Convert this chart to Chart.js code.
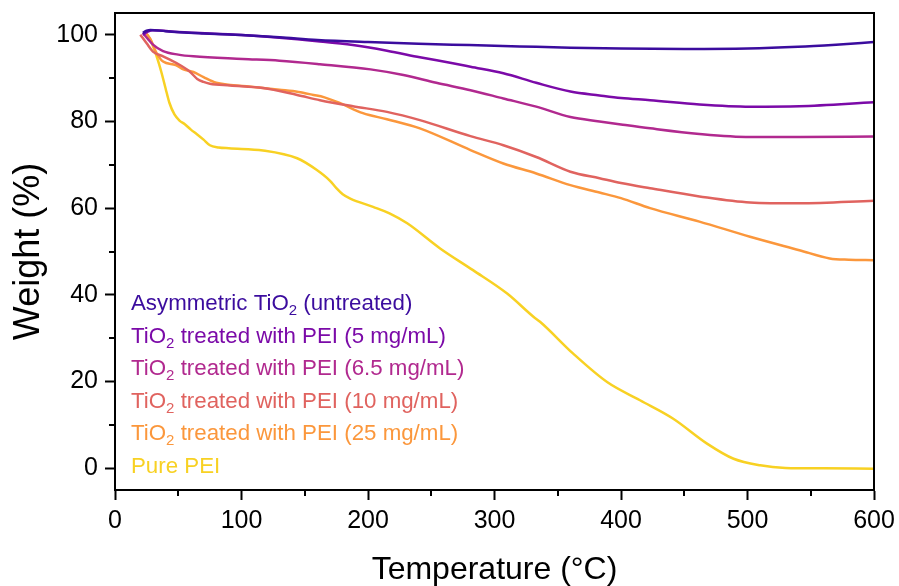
<!DOCTYPE html>
<html>
<head>
<meta charset="utf-8">
<script src="https://cdn.jsdelivr.net/npm/chart.js@4/dist/chart.umd.min.js"></script>
<style>
  html, body { margin: 0; padding: 0; background: #fff; }
  #wrap { width: 899px; height: 586px; }
</style>
</head>
<body>
<div id="wrap"><canvas id="tga" width="899" height="586"></canvas></div>
<script>
// TGA curves, [temperature °C, weight %]
const untreated = [[22,100.4],[25,100.9],[28,101.1],[40,100.8],[70,100.3],[100,99.9],[130,99.4],[160,98.8],[200,98.3],[240,97.9],[280,97.6],[320,97.3],[360,97.0],[400,96.8],[450,96.7],[500,96.8],[540,97.2],[570,97.7],[600,98.3]];
const pei5 = [[22,100.0],[26,100.7],[30,101.0],[50,100.6],[100,99.9],[130,99.3],[160,98.5],[188,97.6],[215,96.3],[241,94.8],[267,93.4],[281,92.6],[307,91.1],[333,88.9],[360,86.9],[383,86.0],[400,85.4],[423,84.9],[462,83.9],[502,83.4],[541,83.5],[600,84.4]];
const pei65 = [[22,100.4],[26,99.0],[30,97.7],[38,96.2],[50,95.4],[62,95.0],[101,94.4],[130,94.0],[162,93.2],[202,92.0],[228,90.7],[254,88.9],[281,87.2],[307,85.3],[333,83.4],[360,81.0],[383,80.0],[400,79.3],[423,78.4],[462,77.1],[502,76.4],[541,76.4],[600,76.5]];
const pei10 = [[20,100.0],[25,98.0],[30,96.1],[38,95.0],[49,93.4],[59,91.5],[65,89.8],[70,89.1],[75,88.7],[91,88.3],[117,87.7],[144,86.1],[162,84.9],[188,83.5],[215,82.2],[241,80.3],[281,76.6],[307,74.5],[333,71.8],[360,68.4],[383,66.9],[400,65.8],[423,64.6],[462,62.7],[502,61.3],[541,61.1],[600,61.7]];
const pei25 = [[25,100.2],[28,99.0],[33,95.7],[38,93.8],[48,93.0],[54,92.0],[62,91.4],[70,90.2],[80,88.9],[104,88.1],[130,87.3],[145,86.8],[157,86.1],[165,85.6],[178,84.2],[196,81.9],[215,80.5],[241,78.4],[281,73.4],[307,70.3],[333,68.0],[360,65.3],[383,63.6],[400,62.3],[423,60.0],[462,56.9],[502,53.4],[541,50.3],[565,48.4],[580,48.1],[600,48.0]];
const peiPure = [[25,100.2],[28,98.8],[31,96.6],[34,94.0],[37,91.0],[40,87.6],[43,84.3],[47,81.6],[51,80.2],[55,79.4],[60,78.1],[65,77.0],[70,75.8],[75,74.5],[82,74.0],[90,73.8],[117,73.3],[144,71.5],[159,68.9],[170,66.3],[175,64.6],[180,63.2],[186,62.2],[204,60.3],[217,58.8],[231,56.5],[257,50.7],[283,45.7],[310,40.3],[331,34.9],[336,33.8],[362,26.5],[389,19.9],[415,15.7],[441,11.5],[468,5.7],[489,2.2],[510,0.7],[530,0.1],[560,0.0],[600,-0.1]];

const seriesNames = [
  "Asymmetric TiO2 (untreated)",
  "TiO2 treated with PEI (5 mg/mL)",
  "TiO2 treated with PEI (6.5 mg/mL)",
  "TiO2 treated with PEI (10 mg/mL)",
  "TiO2 treated with PEI (25 mg/mL)",
  "Pure PEI"
];
const seriesData = [untreated, pei5, pei65, pei10, pei25, peiPure];
const seriesColors = ["#3b0c9e", "#7b0aa8", "#b1298f", "#e0635f", "#fb973c", "#f8d123"];

const FONT = "Arial, 'Liberation Sans', sans-serif";

// box frame + minor ticks
const framePlugin = {
  id: "frame",
  afterDraw(chart) {
    const { ctx, chartArea: a, scales } = chart;
    ctx.save();
    ctx.strokeStyle = "#000";
    ctx.lineWidth = 2;
    ctx.strokeRect(a.left, a.top, a.right - a.left, a.bottom - a.top);

    // minor ticks halfway between the major ones
    const xt = scales.x.ticks.map(t => t.value);
    const yt = scales.y.ticks.map(t => t.value);
    ctx.beginPath();
    for (let i = 0; i < xt.length - 1; i++) {
      const px = Math.round(scales.x.getPixelForValue((xt[i] + xt[i + 1]) / 2));
      ctx.moveTo(px, a.bottom);
      ctx.lineTo(px, a.bottom + 6);
    }
    for (let i = 0; i < yt.length - 1; i++) {
      const py = Math.round(scales.y.getPixelForValue((yt[i] + yt[i + 1]) / 2));
      ctx.moveTo(a.left, py);
      ctx.lineTo(a.left - 6, py);
    }
    ctx.stroke();
    ctx.restore();
  }
};

// coloured text legend with TiO2 subscript
const textLegend = {
  id: "textLegend",
  afterDraw(chart) {
    const { ctx, chartArea: a } = chart;
    ctx.save();
    ctx.textBaseline = "alphabetic";
    ctx.textAlign = "left";
    let y = a.top + 297;
    chart.data.datasets.forEach(ds => {
      ctx.fillStyle = ds.borderColor;
      let x = a.left + 16;
      const parts = ds.label.split("TiO2");
      parts.forEach((p, i) => {
        ctx.font = "22.3px " + FONT;
        ctx.fillText(p, x, y);
        x += ctx.measureText(p).width;
        if (i < parts.length - 1) {
          ctx.fillText("TiO", x, y);
          x += ctx.measureText("TiO").width;
          ctx.font = "15px " + FONT;
          ctx.fillText("2", x, y + 5);
          x += ctx.measureText("2").width;
        }
      });
      y += 32.6;
    });
    ctx.restore();
  }
};

new Chart(document.getElementById("tga"), {
  type: "line",
  data: {
    datasets: seriesData.map((d, i) => ({
      label: seriesNames[i],
      data: d.map(p => ({ x: p[0], y: p[1] })),
      borderColor: seriesColors[i],
      backgroundColor: seriesColors[i],
      borderWidth: 2.5,
      pointRadius: 0,
      fill: false,
      cubicInterpolationMode: "monotone"
    }))
  },
  options: {
    responsive: false,
    animation: false,
    events: [],
    layout: { padding: { top: 13, right: 25, left: 0, bottom: 0 } },
    plugins: { legend: { display: false }, tooltip: { enabled: false } },
    scales: {
      x: {
        type: "linear",
        min: 0,
        max: 600,
        ticks: { stepSize: 100, color: "#000", font: { family: FONT, size: 25 }, padding: 6, maxRotation: 0 },
        grid: { drawOnChartArea: false, drawTicks: true, tickLength: 10, tickColor: "#000", tickWidth: 2 },
        border: { color: "#000", width: 2 },
        title: { display: true, text: "Temperature (°C)", color: "#000", font: { family: FONT, size: 32, lineHeight: 1 }, padding: 0 },
        afterFit(scale) { scale.height = 96; scale.paddingLeft = 0; scale.paddingRight = 0; }
      },
      y: {
        min: -5,
        max: 105,
        ticks: { stepSize: 20, includeBounds: false, color: "#000", font: { family: FONT, size: 25 }, padding: 7 },
        grid: { drawOnChartArea: false, drawTicks: true, tickLength: 10, tickColor: "#000", tickWidth: 2 },
        border: { color: "#000", width: 2 },
        title: { display: true, text: "Weight (%)", color: "#000", font: { family: FONT, size: 36, lineHeight: 1 }, padding: { top: 11, bottom: 0 } },
        afterFit(scale) { scale.width = 115; scale.paddingTop = 0; scale.paddingBottom = 0; }
      }
    }
  },
  plugins: [framePlugin, textLegend]
});
</script>
</body>
</html>
